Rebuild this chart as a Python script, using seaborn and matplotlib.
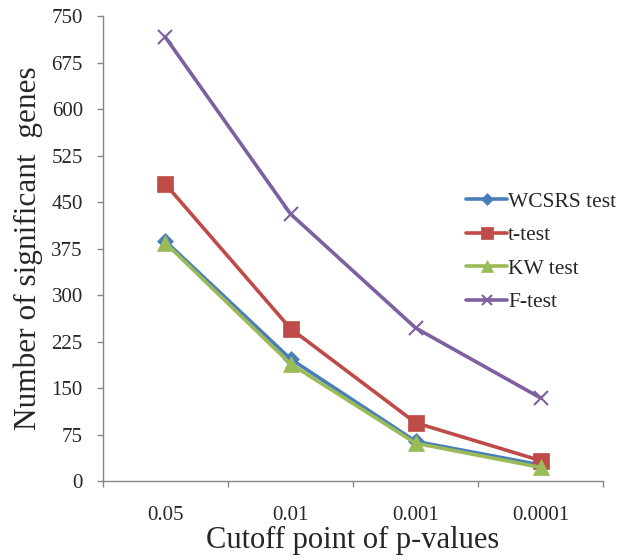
import matplotlib
matplotlib.use("Agg")
import matplotlib.pyplot as plt
import seaborn as sns
import pandas as pd
from matplotlib.ticker import FixedLocator, MultipleLocator

cutoffs = ["0.05", "0.01", "0.001", "0.0001"]
wcsrs = [387, 197, 64, 26]
ttest = [479, 246, 94, 33]
kw = [384, 189, 61, 22]
ftest = [716, 431, 247, 134]
series_names = ["WCSRS test", "t-test", "KW test", "F-test"]

rows = []
for name, vals in zip(series_names, [wcsrs, ttest, kw, ftest]):
    for c, v in zip(cutoffs, vals):
        rows.append({"cutoff": c, "genes": v, "series": name})
df = pd.DataFrame(rows)

sns.set_theme(style="white")
plt.rcParams["font.family"] = ["Liberation Serif", "DejaVu Serif"]

fig = plt.figure(figsize=(6.2, 5.6), dpi=100)
ax = fig.add_axes([0.166, 0.141, 0.807, 0.830])

palette = {"WCSRS test": "#4A7EBB", "t-test": "#BE4B48", "KW test": "#9BBB59", "F-test": "#7D60A0"}
markers = {"WCSRS test": "D", "t-test": "s", "KW test": "^", "F-test": "x"}
sizes = {"WCSRS test": 8, "t-test": 11, "KW test": 12, "F-test": 10}

for name in series_names:
    sub = df[df["series"] == name]
    sns.lineplot(data=sub, x="cutoff", y="genes", ax=ax, color=palette[name],
                 marker=markers[name], markersize=sizes[name], linewidth=2.6,
                 markeredgecolor=palette[name], markeredgewidth=1.5 if name == "F-test" else 0.5,
                 label=name, sort=False)

ax.set_xlim(-0.5, 3.5)
ax.set_ylim(0, 750)
ax.yaxis.set_major_locator(MultipleLocator(75))
ax.set_xticks(range(4))
ax.set_xticklabels(cutoffs)
ax.xaxis.set_minor_locator(FixedLocator([-0.5, 0.5, 1.5, 2.5, 3.5]))
ax.tick_params(axis="x", which="major", bottom=True, length=0, pad=18, labelsize=15)
ax.tick_params(axis="x", which="minor", bottom=True, length=4.5, width=1, color="#868686", direction="out")
ax.tick_params(axis="y", which="major", left=True, length=4.5, width=1, color="#868686", direction="out",
               labelsize=15, pad=10)
for s in ["top", "right"]:
    ax.spines[s].set_visible(False)
for s in ["left", "bottom"]:
    ax.spines[s].set_color("#868686")
    ax.spines[s].set_linewidth(1)

ax.set_xlabel("Cutoff point of p-values", fontsize=22, labelpad=1)
ax.set_ylabel("Number of significant  genes", fontsize=22.5, labelpad=6)

leg = ax.legend(loc="upper left", bbox_to_anchor=(0.726, 0.622), frameon=False, fontsize=15.5,
                handlelength=1.9, handletextpad=0.05, labelspacing=0.62, borderaxespad=0,
                borderpad=0, markerscale=0.75)

fig.savefig("out.png", dpi=100)
